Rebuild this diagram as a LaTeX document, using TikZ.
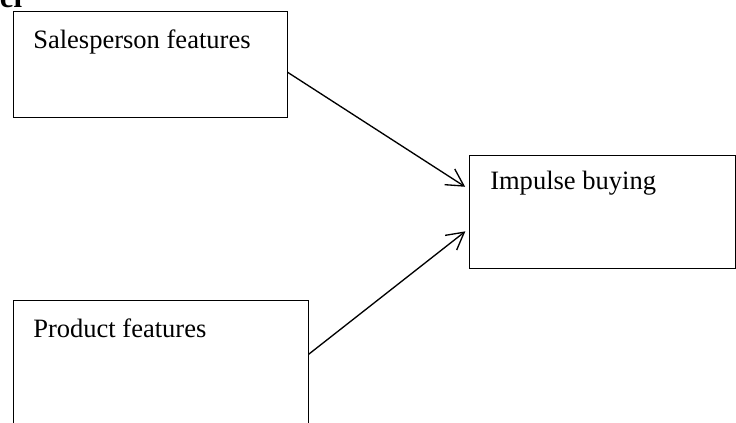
\documentclass[tikz,border=0pt]{standalone}
\usepackage{fontspec}
\setmainfont{Liberation Serif}
\usetikzlibrary{arrows.meta}
\begin{document}
\begin{tikzpicture}[x=0.75pt,y=-0.75pt,
    box/.style={draw,line width=0.75pt,rectangle,inner sep=0pt},
    txt/.style={inner sep=0pt,anchor=base west,font=\fontsize{19.9pt}{24pt}\selectfont},
    link/.style={line width=1pt,-{Straight Barb[length=12.75pt,width=14pt]},shorten >=3pt}]
      \useasboundingbox (0,0) rectangle (736,423);
      \node[inner sep=0pt,anchor=base east,font=\fontsize{23.3pt}{28pt}\selectfont\bfseries]
        (head) at (22.5,7.3) {el};
      \node[box,minimum width=205.5pt,minimum height=79.5pt] (sales) at (150,65) {};
      \node[box,minimum width=199.5pt,minimum height=84.75pt] (impulse) at (602,212.5) {};
      \node[box,minimum width=221.25pt,minimum height=119.25pt] (product) at (160.5,380.5) {};
      \node[txt] (salestxt) at (33,48.3) {Salesperson features};
      \node[txt] (impulsetxt) at (490,189.3) {Impulse buying};
      \node[txt] (producttxt) at (33,337.7) {Product features};
      \begin{scope}[link]
        \draw (sales.-3.3) to (impulse.170);
        \draw (product.10.6) to (impulse.187.9);
      \end{scope}
    \end{tikzpicture}
\end{document}
